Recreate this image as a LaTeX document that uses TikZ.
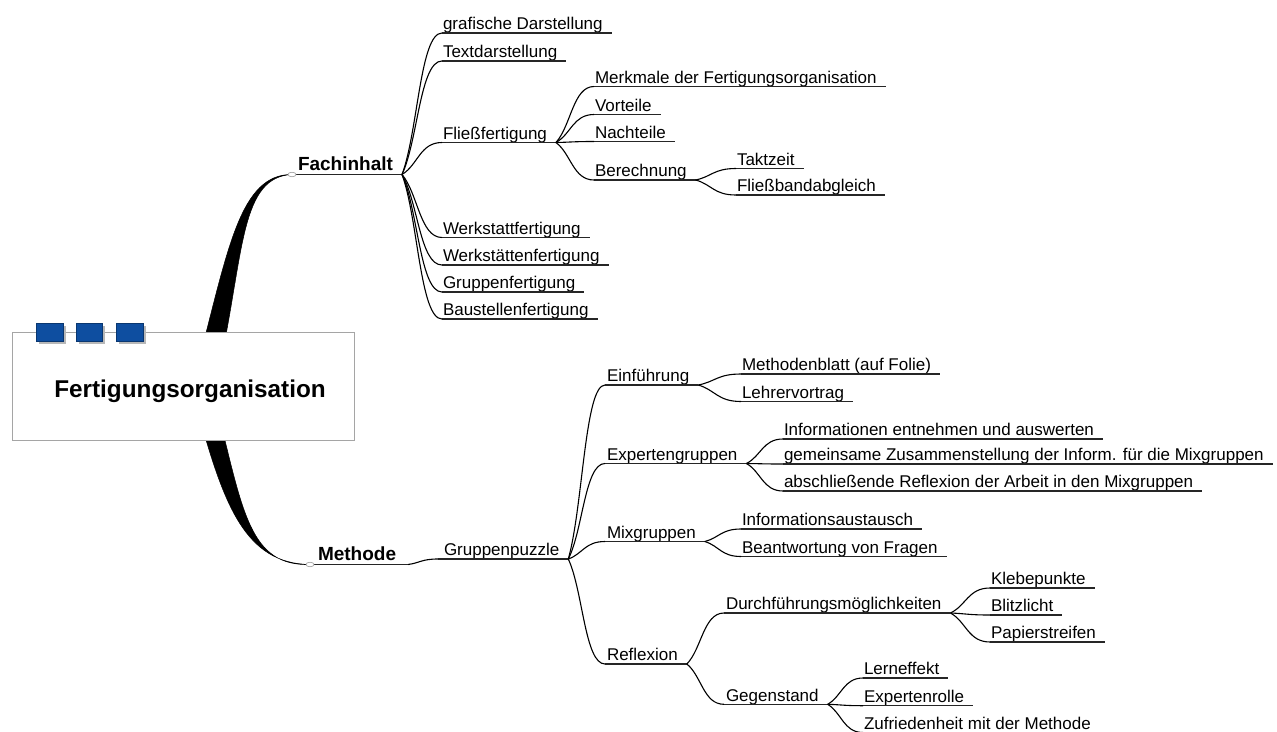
\documentclass[tikz,border=0pt]{standalone}
\usepackage{fontspec}
\setmainfont{Liberation Sans}
\usetikzlibrary{calc,shapes.geometric}
\definecolor{topicblue}{RGB}{14,78,160}
\definecolor{boxgray}{RGB}{165,165,165}
\begin{document}
\begin{tikzpicture}[x=1pt,y=-1pt,
 labbase/.style={anchor=south west, inner xsep=0pt, inner ysep=0pt, outer sep=0pt, text depth=3.2pt},
 lab/.style={labbase, font=\fontsize{17}{20}\selectfont, execute at begin node=\kern1pt, execute at end node=\kern9pt},
 mainlab/.style={labbase, font=\fontsize{19}{22}\selectfont\bfseries, text depth=3.6pt},
 uline/.style={line width=1.2pt, black!85},
 mainline/.style={line width=1.6pt, black!85},
 conn/.style={line width=1.1pt, black},
 mmcurve/.style={to path={let \p1=(\tikztostart), \p2=(\tikztotarget) in .. controls ({\x1+0.4*(\x2-\x1)},{\y1+0.3*(\y2-\y1)}) and ({\x1+0.45*(\x2-\x1)},\y2) .. (\tikztotarget)}},
 dot/.style={ellipse, draw=gray!80, fill=white, line width=0.6pt, minimum width=8pt, minimum height=4.5pt, inner sep=0pt},
 rootbox/.style={draw=boxgray, fill=white, line width=1.2pt, minimum width=342pt, minimum height=108.5pt, inner sep=0pt},
 roottxt/.style={font=\fontsize{24.3}{28}\selectfont\bfseries, inner sep=0pt, anchor=base},
 tab/.style={fill=topicblue, draw=topicblue!70!black, line width=0.6pt},
 tabshadow/.style={fill=black!28},
 taper/.style={fill=black, draw=black, line width=0.5pt}
]
\useasboundingbox (0,0) rectangle (1277,731);

% main topics
\node[mainlab] (fach) at (292,174.5) {\kern6pt Fachinhalt\kern9pt};
\node[mainlab] (meth) at (310,564.5) {\kern8pt Methode\kern12pt};

% Fachinhalt subtree
\node[lab] (grafik)  at (442,33)    {grafische Darstellung};
\node[lab] (textd)   at (442,61)    {Textdarstellung};
\node[lab] (fliess)  at (442,142.5) {Flie{\ss}fertigung};
\node[lab] (werkst)  at (442,237.5) {Werkstattfertigung};
\node[lab] (werkstn) at (442,265)   {Werkstättenfertigung};
\node[lab] (gruppf)  at (442,292)   {Gruppenfertigung};
\node[lab] (baust)   at (442,319)   {Baustellenfertigung};
\node[lab] (merk)    at (594,86.5)  {Merkmale der Fertigungsorganisation};
\node[lab] (vort)    at (594,114.5) {Vorteile};
\node[lab] (nacht)   at (594,141.5) {Nachteile};
\node[lab] (berech)  at (594,180)   {Berechnung};
\node[lab] (takt)    at (736,168.5) {Taktzeit};
\node[lab] (fband)   at (736,195)   {Flie{\ss}bandabgleich};

% Methode subtree
\node[lab] (gpuzz)   at (438,559)   {\kern5pt Gruppenpuzzle};
\node[lab] (einf)    at (605,385)   {\kern1pt Einführung};
\node[lab] (expg)    at (605,463.5) {\kern1pt Expertengruppen};
\node[lab] (mixg)    at (605,541.5) {\kern1pt Mixgruppen};
\node[lab] (refl)    at (605,664)   {\kern1pt Reflexion};
\node[lab] (mblatt)  at (741,374)   {Methodenblatt (auf Folie)};
\node[lab] (lvort)   at (741,401.5) {Lehrervortrag};
\node[lab] (info)    at (783,439)   {Informationen entnehmen und auswerten};
\node[lab] (gemein)  at (783,464)   {gemeinsame Zusammenstellung der Inform. für die Mixgruppen};
\node[lab] (abschl)  at (783,491)   {abschlie{\ss}ende Reflexion der Arbeit in den Mixgruppen};
\node[lab] (iaust)   at (741,529)   {Informationsaustausch};
\node[lab] (beant)   at (741,556.5) {Beantwortung von Fragen};
\node[lab] (durch)   at (724,613)   {\kern1pt Durchführungsmöglichkeiten};
\node[lab] (gegen)   at (724,704.3) {\kern1pt Gegenstand};
\node[lab] (klebe)   at (990,588)   {Klebepunkte};
\node[lab] (blitz)   at (990,615)   {Blitzlicht};
\node[lab] (papier)  at (990,642)   {Papierstreifen};
\node[lab] (lern)    at (863,678)   {Lerneffekt};
\node[lab] (exrol)   at (863,705.7) {Expertenrolle};
\node[lab] (zufr)    at (863,732.5) {Zufriedenheit mit der Methode};

% tapered main branches (root -> main topics)
\fill[taper] (199,360) .. controls (228,250) and (240,173.8) .. (fach.south west)
   .. controls (241,177) and (244,250) .. (221,360) -- cycle;
\fill[taper] (198,412) .. controls (224,505) and (245,563.5) .. (meth.south west)
   .. controls (250,566.5) and (243,512) .. (218,412) -- cycle;

% central topic
\node[rootbox] (root) at (183.3,386.4) {};
\fill[tabshadow] (38.5,325.5) rectangle (65.5,343.5);
\fill[tabshadow] (79,325.5) rectangle (104.5,343.5);
\fill[tabshadow] (118.5,325.5) rectangle (146,343.5);
\filldraw[tab] (36,323) rectangle (63,341);
\filldraw[tab] (76.5,323) rectangle (102,341);
\filldraw[tab] (116,323) rectangle (143.5,341);
\node[roottxt] (roottext) at (190,397) {Fertigungsorganisation};

% underlines
\foreach \n in {fach,meth} \draw[mainline] (\n.south west) -- (\n.south east);
\foreach \n in {grafik,textd,fliess,werkst,werkstn,gruppf,baust,merk,vort,nacht,berech,takt,fband,
  gpuzz,einf,expg,mixg,refl,mblatt,lvort,info,gemein,abschl,iaust,beant,durch,gegen,klebe,blitz,papier,lern,exrol,zufr}
  \draw[uline] (\n.south west) -- (\n.south east);

% connectors
\foreach \a/\b in {fach/grafik,fach/textd,fach/fliess,fach/werkst,fach/werkstn,fach/gruppf,fach/baust,
  fliess/merk,fliess/vort,fliess/nacht,fliess/berech,berech/takt,berech/fband,
  meth/gpuzz,gpuzz/einf,gpuzz/expg,gpuzz/mixg,gpuzz/refl,einf/mblatt,einf/lvort,
  expg/info,expg/gemein,expg/abschl,mixg/iaust,mixg/beant,refl/durch,refl/gegen,
  durch/klebe,durch/blitz,durch/papier,gegen/lern,gegen/exrol,gegen/zufr}
  \draw[conn] (\a.south east) to[mmcurve] (\b.south west);

% connection dots
\node[dot] (fachdot) at (fach.south west) {};
\node[dot] (methdot) at (meth.south west) {};
\end{tikzpicture}
\end{document}
